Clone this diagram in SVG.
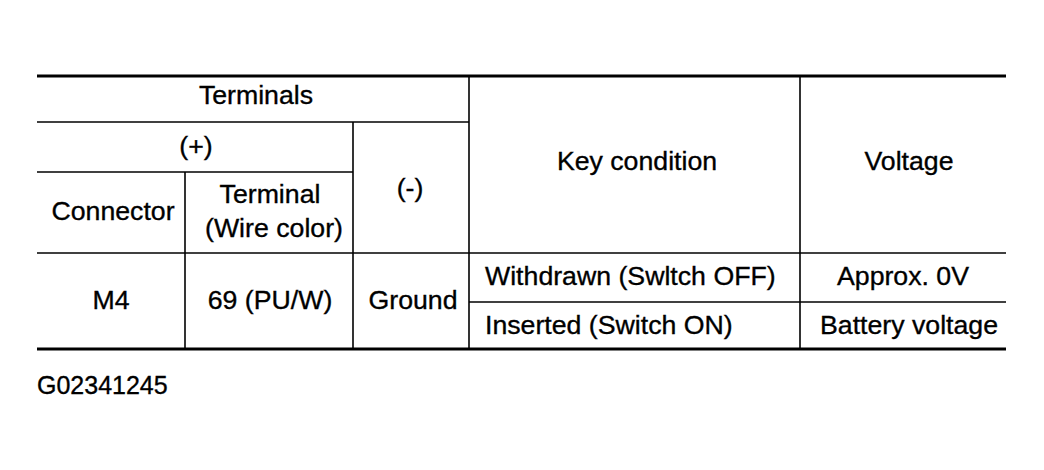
<svg xmlns="http://www.w3.org/2000/svg" width="1044" height="470" viewBox="0 0 1044 470">
<style>
text{font-family:"Liberation Sans",Arial,sans-serif;font-size:26.7px;fill:#000;stroke:#000;stroke-width:0.35;text-anchor:middle}
.l{stroke:#000;stroke-width:1.6;fill:none}
.t{stroke:#000;stroke-width:3;fill:none}
</style>
<rect width="1044" height="470" fill="#fff"/>
<g id="grid">
<line class="t" x1="37" y1="76" x2="1006" y2="76"/>
<line class="l" x1="37" y1="122" x2="469" y2="122"/>
<line class="l" x1="37" y1="172" x2="353" y2="172"/>
<line class="l" x1="37" y1="253" x2="1006" y2="253"/>
<line class="l" x1="469" y1="302" x2="1006" y2="302"/>
<line class="t" x1="37" y1="349" x2="1006" y2="349"/>
<line class="l" x1="185" y1="172" x2="185" y2="349"/>
<line class="l" x1="353" y1="122" x2="353" y2="349"/>
<line class="l" x1="469" y1="76" x2="469" y2="349"/>
<line class="l" x1="800" y1="76" x2="800" y2="349"/>
</g>
<g id="header">
<text x="256" y="104">Terminals</text>
<text x="196" y="155">(+)</text>
<text x="113" y="220">Connector</text>
<text x="270" y="203">Terminal</text>
<text x="274" y="237">(Wire color)</text>
<text x="410" y="197">(-)</text>
<text x="637" y="170">Key condition</text>
<text x="909" y="170">Voltage</text>
</g>
<g id="row">
<text x="111" y="309">M4</text>
<text x="270" y="309">69 (PU/W)</text>
<text x="413" y="309">Ground</text>
<text x="485" y="285" style="text-anchor:start">Withdrawn (Swltch OFF)</text>
<text x="903" y="285">Approx. 0V</text>
<text x="485" y="334" style="text-anchor:start">Inserted (Switch ON)</text>
<text x="909" y="334">Battery voltage</text>
</g>
<text x="37" y="394" style="text-anchor:start;font-size:25px">G02341245</text>
</svg>
